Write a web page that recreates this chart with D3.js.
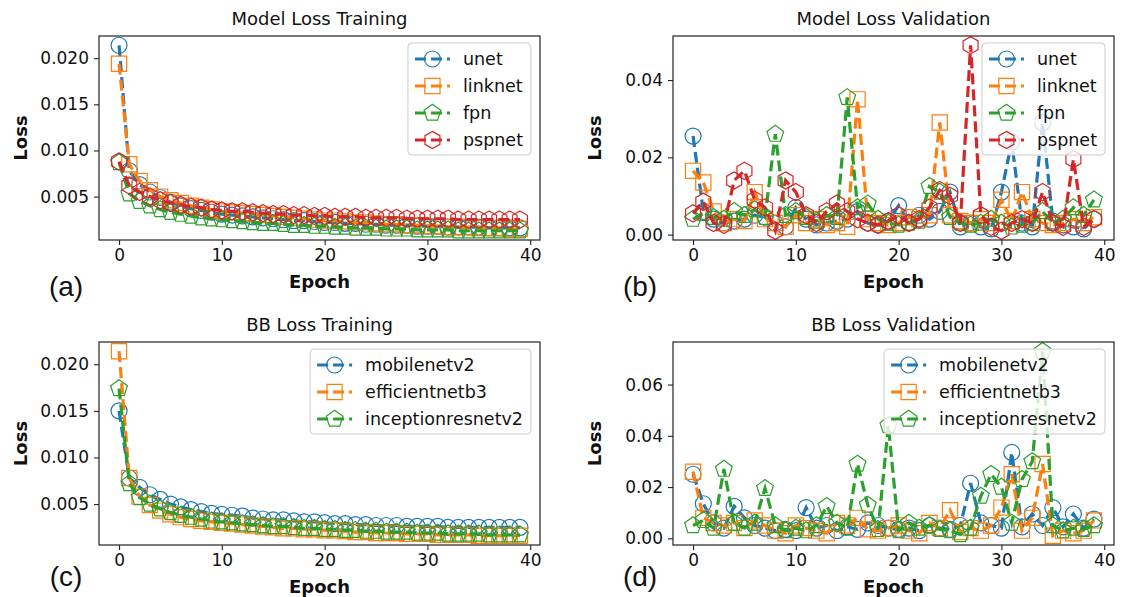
<!DOCTYPE html>
<html><head><meta charset="utf-8">
<script src="https://cdn.jsdelivr.net/npm/d3@7"></script>
<style>body{margin:0;background:#fff}svg{display:block}</style>
</head><body><svg id="c" width="1122" height="597"></svg>
<script>
const epochs = d3.range(40);

// (a) Model Loss Training
const modelNames = ["unet", "linknet", "fpn", "pspnet"];
const trainUnet = [0.0214,0.0078,0.0063,0.0055,0.0049,0.0044,0.0040,0.0037,0.0035,0.0033,0.0031,0.0030,0.0029,0.0028,0.0027,0.0026,0.0025,0.0024,0.0024,0.0023,0.0022,0.0022,0.0021,0.0021,0.0020,0.0020,0.0019,0.0019,0.0019,0.0018,0.0018,0.0018,0.0017,0.0017,0.0017,0.0017,0.0016,0.0016,0.0016,0.0016];
const trainLinknet = [0.0194,0.0085,0.0067,0.0057,0.0050,0.0046,0.0043,0.0040,0.0038,0.0036,0.0034,0.0033,0.0032,0.0031,0.0030,0.0029,0.0028,0.0027,0.0026,0.0025,0.0024,0.0024,0.0023,0.0022,0.0022,0.0021,0.0020,0.0020,0.0019,0.0019,0.0018,0.0018,0.0017,0.0017,0.0017,0.0016,0.0016,0.0016,0.0015,0.0015];
const trainFpn = [0.0087,0.0053,0.0045,0.0040,0.0036,0.0033,0.0031,0.0029,0.0027,0.0026,0.0025,0.0024,0.0023,0.0022,0.0021,0.0021,0.0020,0.0019,0.0019,0.0018,0.0018,0.0017,0.0017,0.0016,0.0016,0.0016,0.0015,0.0015,0.0015,0.0014,0.0014,0.0014,0.0014,0.0013,0.0013,0.0013,0.0013,0.0013,0.0013,0.0013];
const trainPspnet = [0.0088,0.0062,0.0055,0.0050,0.0046,0.0043,0.0041,0.0039,0.0038,0.0036,0.0035,0.0034,0.0034,0.0033,0.0032,0.0031,0.0031,0.0030,0.0030,0.0029,0.0029,0.0028,0.0028,0.0028,0.0027,0.0027,0.0027,0.0027,0.0026,0.0026,0.0026,0.0026,0.0026,0.0025,0.0025,0.0025,0.0025,0.0025,0.0025,0.0025];

// (b) Model Loss Validation
const valUnet = [0.0255,0.0060,0.0040,0.0030,0.0035,0.0040,0.0050,0.0045,0.0030,0.0020,0.0070,0.0040,0.0025,0.0030,0.0035,0.0040,0.0060,0.0030,0.0025,0.0035,0.0075,0.0030,0.0050,0.0040,0.0060,0.0110,0.0020,0.0030,0.0020,0.0015,0.0110,0.0240,0.0030,0.0020,0.0290,0.0035,0.0025,0.0020,0.0015,0.0040];
const valLinknet = [0.0165,0.0135,0.0060,0.0030,0.0040,0.0035,0.0110,0.0040,0.0030,0.0020,0.0050,0.0030,0.0040,0.0025,0.0030,0.0020,0.0350,0.0040,0.0030,0.0025,0.0030,0.0045,0.0040,0.0050,0.0290,0.0050,0.0035,0.0030,0.0040,0.0030,0.0090,0.0035,0.0110,0.0040,0.0030,0.0025,0.0030,0.0040,0.0030,0.0045];
const valFpn = [0.0040,0.0055,0.0045,0.0040,0.0060,0.0050,0.0065,0.0045,0.0260,0.0050,0.0060,0.0045,0.0035,0.0050,0.0045,0.0355,0.0070,0.0080,0.0040,0.0030,0.0025,0.0030,0.0035,0.0125,0.0110,0.0045,0.0030,0.0025,0.0030,0.0040,0.0030,0.0020,0.0025,0.0030,0.0060,0.0030,0.0040,0.0070,0.0050,0.0090];
const valPspnet = [0.0055,0.0085,0.0030,0.0025,0.0140,0.0165,0.0090,0.0070,0.0010,0.0140,0.0110,0.0050,0.0030,0.0060,0.0080,0.0060,0.0040,0.0030,0.0025,0.0035,0.0050,0.0030,0.0040,0.0070,0.0115,0.0100,0.0030,0.0490,0.0050,0.0020,0.0010,0.0030,0.0040,0.0030,0.0110,0.0030,0.0020,0.0195,0.0020,0.0040];

// (c) BB Loss Training
const bbNames = ["mobilenetv2", "efficientnetb3", "inceptionresnetv2"];
const trainMobile = [0.0150,0.0078,0.0068,0.0060,0.0055,0.0050,0.0047,0.0044,0.0042,0.0040,0.0039,0.0038,0.0037,0.0035,0.0034,0.0033,0.0033,0.0032,0.0031,0.0031,0.0030,0.0029,0.0029,0.0028,0.0028,0.0027,0.0027,0.0027,0.0026,0.0026,0.0026,0.0026,0.0025,0.0025,0.0025,0.0025,0.0025,0.0025,0.0025,0.0025];
const trainEfficient = [0.0214,0.0078,0.0058,0.0049,0.0043,0.0039,0.0036,0.0034,0.0032,0.0031,0.0030,0.0029,0.0028,0.0027,0.0026,0.0025,0.0024,0.0024,0.0023,0.0023,0.0022,0.0022,0.0021,0.0020,0.0020,0.0019,0.0019,0.0019,0.0018,0.0018,0.0018,0.0017,0.0017,0.0017,0.0017,0.0016,0.0016,0.0016,0.0016,0.0016];
const trainInception = [0.0174,0.0072,0.0057,0.0050,0.0045,0.0041,0.0038,0.0036,0.0034,0.0032,0.0031,0.0030,0.0029,0.0028,0.0027,0.0026,0.0026,0.0025,0.0024,0.0024,0.0023,0.0023,0.0022,0.0022,0.0021,0.0021,0.0020,0.0020,0.0020,0.0019,0.0019,0.0019,0.0018,0.0018,0.0018,0.0018,0.0017,0.0017,0.0017,0.0017];

// (d) BB Loss Validation
const valMobile = [0.0250,0.0135,0.0060,0.0040,0.0125,0.0080,0.0050,0.0040,0.0030,0.0035,0.0030,0.0120,0.0040,0.0050,0.0030,0.0045,0.0035,0.0060,0.0050,0.0040,0.0035,0.0040,0.0030,0.0050,0.0040,0.0035,0.0050,0.0215,0.0060,0.0050,0.0040,0.0335,0.0045,0.0095,0.0050,0.0120,0.0045,0.0095,0.0040,0.0075];
const valEfficient = [0.0260,0.0080,0.0060,0.0050,0.0060,0.0040,0.0070,0.0050,0.0030,0.0020,0.0050,0.0040,0.0030,0.0020,0.0060,0.0050,0.0080,0.0035,0.0030,0.0040,0.0050,0.0030,0.0020,0.0060,0.0040,0.0110,0.0025,0.0040,0.0030,0.0050,0.0120,0.0250,0.0030,0.0080,0.0290,0.0010,0.0030,0.0020,0.0030,0.0070];
const valInception = [0.0050,0.0070,0.0040,0.0270,0.0060,0.0040,0.0060,0.0195,0.0050,0.0030,0.0040,0.0030,0.0050,0.0125,0.0060,0.0040,0.0290,0.0130,0.0035,0.0440,0.0030,0.0060,0.0040,0.0050,0.0035,0.0030,0.0015,0.0040,0.0165,0.0250,0.0200,0.0060,0.0230,0.0300,0.0730,0.0050,0.0030,0.0040,0.0035,0.0050];

const xTicks = [0, 10, 20, 30, 40];
const yTicksTrain = [0.005, 0.010, 0.015, 0.020];
const yTicksModelVal = [0.00, 0.02, 0.04];
const yTicksBBVal = [0.00, 0.02, 0.04, 0.06];

const colors = ["#1f77b4", "#ff7f0e", "#2ca02c", "#d62728"];
const shapes = ["circle", "square", "pentagon", "hexagon"];

const panels = [
  {title: "Model Loss Training", tag: "(a)", names: modelNames, series: [trainUnet, trainLinknet, trainFpn, trainPspnet], yTicks: yTicksTrain, fmt: ".3f", col: 0, row: 0},
  {title: "Model Loss Validation", tag: "(b)", names: modelNames, series: [valUnet, valLinknet, valFpn, valPspnet], yTicks: yTicksModelVal, fmt: ".2f", col: 1, row: 0},
  {title: "BB Loss Training", tag: "(c)", names: bbNames, series: [trainMobile, trainEfficient, trainInception], yTicks: yTicksTrain, fmt: ".3f", col: 0, row: 1},
  {title: "BB Loss Validation", tag: "(d)", names: bbNames, series: [valMobile, valEfficient, valInception], yTicks: yTicksBBVal, fmt: ".2f", col: 1, row: 1}
];

const colX = [[99, 540], [673, 1114]];
const rowY = [[36, 240], [342, 545]];
const tagY = [296, 586];
const FONT = "'DejaVu Sans', sans-serif";

const svg = d3.select("#c");

function markerPath(shape, r) {
  if (shape === "circle") { const p = d3.path(); p.arc(0, 0, r, 0, 2 * Math.PI); p.closePath(); return p.toString(); }
  if (shape === "square") { const s = r * 0.95; return `M${-s},${-s}H${s}V${s}H${-s}Z`; }
  const n = shape === "pentagon" ? 5 : 6;
  const R = shape === "pentagon" ? r * 1.1 : r * 1.08;
  const pts = d3.range(n).map(i => { const a = -Math.PI / 2 + i * 2 * Math.PI / n; return [R * Math.cos(a), R * Math.sin(a)]; });
  return "M" + pts.map(p => p.join(",")).join("L") + "Z";
}

const MR = 8;
const DASH = "11,5";
const LW = 3.2;

panels.forEach((P, pi) => {
  const [x0, x1] = colX[P.col];
  const [y0, y1] = rowY[P.row];
  const all = P.series.flat();
  const mn = d3.min(all), mx = d3.max(all);
  const pad = (mx - mn) * 0.05;
  const x = d3.scaleLinear().domain([-1.95, 40.95]).range([x0, x1]);
  const y = d3.scaleLinear().domain([mn - pad, mx + pad]).range([y1, y0]);
  const g = svg.append("g");

  const clipId = "clip" + pi;
  svg.append("clipPath").attr("id", clipId).append("rect")
    .attr("x", x0).attr("y", y0).attr("width", x1 - x0).attr("height", y1 - y0);

  const plot = g.append("g").attr("clip-path", `url(#${clipId})`);
  const line = d3.line().x((d, i) => x(epochs[i])).y(d => y(d));
  P.series.forEach((s, si) => {
    plot.append("path").attr("d", line(s)).attr("fill", "none")
      .attr("stroke", colors[si]).attr("stroke-width", LW).attr("stroke-dasharray", DASH);
    plot.append("g").selectAll("path").data(s).join("path")
      .attr("transform", (d, i) => `translate(${x(epochs[i])},${y(d)})`)
      .attr("d", markerPath(shapes[si], MR))
      .attr("fill", "none").attr("stroke", colors[si]).attr("stroke-width", 1.2);
  });

  // axes
  const xa = g.append("g").attr("transform", `translate(0,${y1})`)
    .call(d3.axisBottom(x).tickValues(xTicks).tickSize(5).tickPadding(4).tickFormat(d3.format("d")));
  const ya = g.append("g").attr("transform", `translate(${x0},0)`)
    .call(d3.axisLeft(y).tickValues(P.yTicks).tickSize(5).tickPadding(5).tickFormat(d3.format(P.fmt)));
  [xa, ya].forEach(a => {
    a.select(".domain").remove();
    a.selectAll("text").attr("font-family", FONT).attr("font-size", 17).attr("fill", "#111");
    a.selectAll("line").attr("stroke", "#222").attr("stroke-width", 1.1);
  });
  g.append("rect").attr("x", x0).attr("y", y0).attr("width", x1 - x0).attr("height", y1 - y0)
    .attr("fill", "none").attr("stroke", "#222").attr("stroke-width", 1.2);

  // titles and labels
  const cx = (x0 + x1) / 2;
  g.append("text").attr("x", cx).attr("y", y0 - 11).attr("text-anchor", "middle")
    .attr("font-family", FONT).attr("font-size", 18).attr("fill", "#111").text(P.title);
  g.append("text").attr("x", cx).attr("y", y1 + 48).attr("text-anchor", "middle")
    .attr("font-family", FONT).attr("font-size", 18).attr("font-weight", "bold").attr("fill", "#111").text("Epoch");
  g.append("text").attr("transform", `translate(${x0 - 72},${(y0 + y1) / 2}) rotate(-90)`)
    .attr("text-anchor", "middle").attr("font-family", FONT).attr("font-size", 18)
    .attr("font-weight", "bold").attr("fill", "#111").text("Loss");
  g.append("text").attr("x", x0 - 33).attr("y", tagY[P.row]).attr("text-anchor", "middle")
    .attr("font-family", "'Liberation Sans', Arial, sans-serif").attr("font-size", 28).attr("fill", "#111").text(P.tag);

  // legend
  const lg = g.append("g");
  const rowH = 27;
  const handleL = 35, padL = 7, gap = 13, padR = 8;
  const box = lg.append("rect");
  const texts = [];
  P.names.forEach((nm, si) => {
    const t = lg.append("text").attr("font-family", FONT).attr("font-size", 17.5).attr("fill", "#111").text(nm);
    texts.push(t);
  });
  const tw = d3.max(texts, t => t.node().getComputedTextLength());
  const bw = padL + handleL + gap + tw + padR;
  const bh = P.names.length * rowH + 4;
  const bx = x1 - 9 - bw, by = y0 + 7;
  box.attr("x", bx).attr("y", by).attr("width", bw).attr("height", bh).attr("rx", 4)
    .attr("fill", "#fff").attr("fill-opacity", 0.8).attr("stroke", "#ccc").attr("stroke-width", 1);
  P.names.forEach((nm, si) => {
    const ry = by + 16 + si * rowH;
    const hx0 = bx + padL, hx1 = hx0 + handleL;
    lg.append("line").attr("x1", hx0).attr("x2", hx1).attr("y1", ry).attr("y2", ry)
      .attr("stroke", colors[si]).attr("stroke-width", LW).attr("stroke-dasharray", DASH);
    lg.append("path").attr("transform", `translate(${(hx0 + hx1) / 2},${ry})`)
      .attr("d", markerPath(shapes[si], MR)).attr("fill", "none").attr("stroke", colors[si]).attr("stroke-width", 1.2);
    texts[si].attr("x", hx1 + gap).attr("y", ry + 6).raise();
  });
});
</script></body></html>
